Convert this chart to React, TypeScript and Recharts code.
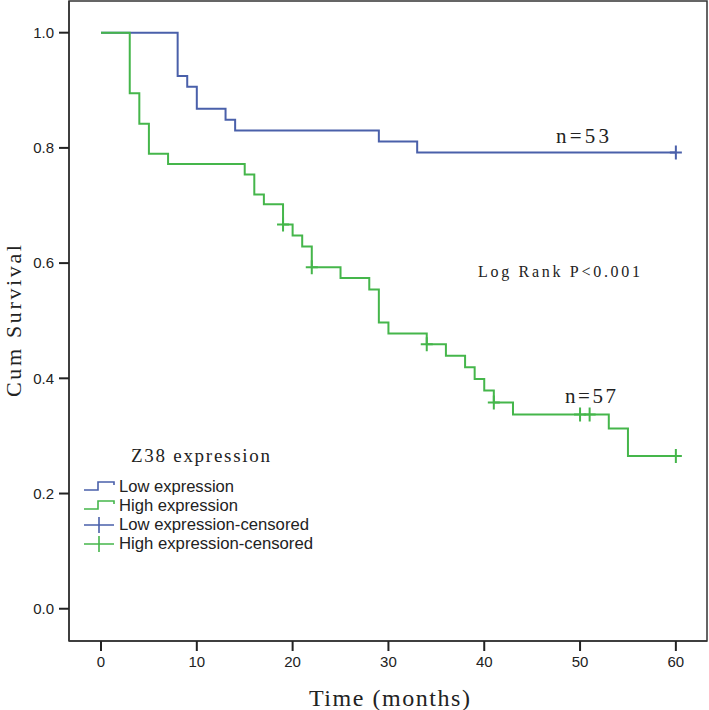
import React from 'react'
import { ComposedChart, Line, Scatter, XAxis, YAxis, ReferenceArea } from 'recharts'

// Kaplan-Meier steps
const lowTime = [0, 8, 9, 10, 13, 14, 29, 33, 60]
const lowSurv = [1, 0.925, 0.906, 0.868, 0.849, 0.83, 0.811, 0.792, 0.792]
const highTime = [0, 3, 4, 5, 7, 15, 16, 17, 19, 20, 21, 22, 25, 28, 29, 30, 34, 36, 38, 39, 40, 41, 43, 53, 55, 60]
const highSurv = [1, 0.895, 0.842, 0.79, 0.772, 0.754, 0.719, 0.702, 0.667, 0.648, 0.629, 0.593, 0.574, 0.554, 0.497, 0.478, 0.459, 0.439, 0.419, 0.399, 0.379, 0.358, 0.337, 0.313, 0.265, 0.265]

const lowCensTime = [60]
const lowCensSurv = [0.792]
const highCensTime = [19, 22, 34, 41, 50, 51, 60]
const highCensSurv = [0.667, 0.593, 0.459, 0.358, 0.337, 0.337, 0.265]

const xTicks = [0, 10, 20, 30, 40, 50, 60]
const yTicks = [0, 0.2, 0.4, 0.6, 0.8, 1.0]

const X_MIN = -3.34
const X_MAX = 63.25
const Y_MIN = -0.056
const Y_MAX = 1.055

const BLUE = '#4a60aa'
const GREEN = '#45b64b'
const AXIS = '#333'
const SERIF = '"Liberation Serif", "DejaVu Serif", serif'
const SANS = '"Liberation Sans", Arial, sans-serif'

const toRows = (t: number[], s: number[]) => t.map((v, i) => ({ t: v, s: s[i] }))

const lowData = toRows(lowTime, lowSurv)
const highData = toRows(highTime, highSurv)
const lowCens = toRows(lowCensTime, lowCensSurv)
const highCens = toRows(highCensTime, highCensSurv)

function plus(color: string) {
  return (props: any) => {
    const { cx, cy } = props
    if (cx == null || cy == null) return <g />
    return (
      <path d={`M${cx - 6} ${cy} H${cx + 6} M${cx} ${cy - 7} V${cy + 7}`} stroke={color} strokeWidth={2} fill="none" />
    )
  }
}

function Overlay() {
  const txt = { fill: '#222' }
  return (
    <svg width={709} height={710} style={{ position: 'absolute', left: 0, top: 0, pointerEvents: 'none' }}>
      <text x={556} y={143} fontFamily={SERIF} fontSize={21} textLength={53} lengthAdjust="spacing" {...txt}>n=53</text>
      <text x={565} y={403} fontFamily={SERIF} fontSize={21} textLength={51} lengthAdjust="spacing" {...txt}>n=57</text>
      <text x={478} y={277} fontFamily={SERIF} fontSize={16} textLength={162} lengthAdjust="spacing" {...txt}>Log Rank P&lt;0.001</text>
      <text x={131} y={462} fontFamily={SERIF} fontSize={19} textLength={139} lengthAdjust="spacing" {...txt}>Z38 expression</text>
      <text x={309} y={706} fontFamily={SERIF} fontSize={24} textLength={161} lengthAdjust="spacing" {...txt}>Time (months)</text>
      <text x={0} y={0} transform="translate(21 397) rotate(-90)" fontFamily={SERIF} fontSize={22} textLength={152} lengthAdjust="spacing" {...txt}>Cum Survival</text>

      {/* legend */}
      <path d="M84 490 H98 V482 H114 V485" stroke={BLUE} strokeWidth={1.6} fill="none" />
      <path d="M84 509 H98 V501 H114 V504" stroke={GREEN} strokeWidth={1.6} fill="none" />
      <path d="M84 525 H114 M99 517 V533" stroke={BLUE} strokeWidth={1.6} fill="none" />
      <path d="M84 544 H114 M99 536 V552" stroke={GREEN} strokeWidth={1.6} fill="none" />
      <text x={119} y={492} fontFamily={SANS} fontSize={16} textLength={115} lengthAdjust="spacingAndGlyphs" {...txt}>Low expression</text>
      <text x={119} y={511} fontFamily={SANS} fontSize={16} textLength={119} lengthAdjust="spacingAndGlyphs" {...txt}>High expression</text>
      <text x={119} y={530} fontFamily={SANS} fontSize={16} textLength={190} lengthAdjust="spacingAndGlyphs" {...txt}>Low expression-censored</text>
      <text x={119} y={549} fontFamily={SANS} fontSize={16} textLength={194} lengthAdjust="spacingAndGlyphs" {...txt}>High expression-censored</text>
    </svg>
  )
}

export default function App() {
  const tick = { fill: '#222', fontSize: 15, fontFamily: SANS }
  return (
    <div style={{ position: 'absolute', left: 0, top: 0, width: 709, height: 710, background: '#fff' }}>
      <ComposedChart width={709} height={710} margin={{ top: 1, right: 2, left: 0, bottom: 0 }}>
        <XAxis
          type="number"
          dataKey="t"
          domain={[X_MIN, X_MAX]}
          ticks={xTicks}
          height={69}
          tickSize={10}
          tickMargin={5}
          tick={tick}
          axisLine={{ stroke: AXIS, strokeWidth: 1.5 }}
          tickLine={{ stroke: '#222', strokeWidth: 2 }}
          allowDataOverflow
        />
        <YAxis
          type="number"
          dataKey="s"
          domain={[Y_MIN, Y_MAX]}
          ticks={yTicks}
          width={69}
          tickSize={10}
          tickMargin={5}
          tick={tick}
          tickFormatter={(v: number) => v.toFixed(1)}
          axisLine={{ stroke: AXIS, strokeWidth: 1.5 }}
          tickLine={{ stroke: '#222', strokeWidth: 2 }}
          allowDataOverflow
        />
        <ReferenceArea x1={X_MIN} x2={X_MAX} y1={Y_MIN} y2={Y_MAX} fill="none" stroke={AXIS} strokeWidth={1.5} fillOpacity={0} />
        <Line data={lowData} dataKey="s" type="stepAfter" stroke={BLUE} strokeWidth={2} dot={false} isAnimationActive={false} />
        <Line data={highData} dataKey="s" type="stepAfter" stroke={GREEN} strokeWidth={2} dot={false} isAnimationActive={false} />
        <Scatter data={lowCens} dataKey="s" shape={plus(BLUE)} isAnimationActive={false} />
        <Scatter data={highCens} dataKey="s" shape={plus(GREEN)} isAnimationActive={false} />
      </ComposedChart>
      <Overlay />
    </div>
  )
}
